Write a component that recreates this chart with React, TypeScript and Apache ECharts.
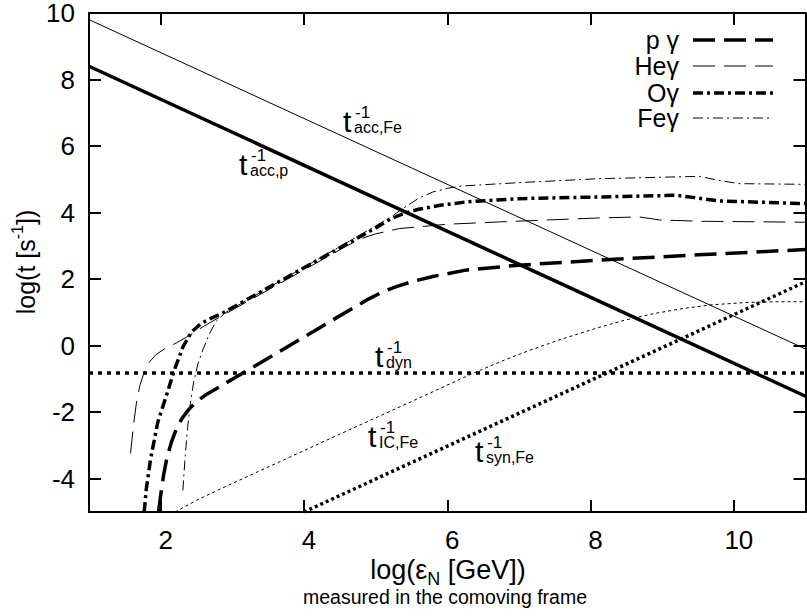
import React, { useEffect, useRef } from "react";
import * as echarts from "echarts";

const FONT = '"Liberation Sans", Arial, sans-serif';

// axis ticks
const xTicks = [2, 4, 6, 8, 10];
const yTicks = [-4, -2, 0, 2, 4, 6, 8, 10];

// legend / series names
const seriesNames = ["p γ", "Heγ", "Oγ", "Feγ"];

// photo-hadronic loss rates
const pGamma: number[][] = [
  [1.97, -5], [2.0, -4.5], [2.04, -3.9], [2.09, -3.35], [2.15, -2.9], [2.22, -2.5],
  [2.3, -2.18], [2.4, -1.9], [2.5, -1.68], [2.65, -1.45], [3.5, -0.38], [4.4, 0.77],
  [4.9, 1.4], [5.1, 1.62], [5.3, 1.78], [5.5, 1.92], [5.8, 2.08], [6.26, 2.27],
  [7.0, 2.42], [8.12, 2.57], [9.5, 2.73], [11, 2.89],
];
const heGamma: number[][] = [
  [1.58, -3.24], [1.62, -2.4], [1.66, -1.75], [1.71, -1.2], [1.77, -0.8], [1.84, -0.5],
  [1.93, -0.28], [2.05, -0.1], [2.2, 0.06], [2.38, 0.28], [2.6, 0.58], [2.84, 0.88],
  [4.6, 3.0], [4.8, 3.22], [5.0, 3.36], [5.33, 3.52], [6.0, 3.65], [6.73, 3.72],
  [8.12, 3.84], [8.68, 3.87], [8.96, 3.78], [9.52, 3.74], [11, 3.71],
];
const oGamma: number[][] = [
  [1.77, -5], [1.8, -4.3], [1.86, -3.4], [1.96, -2.3], [2.08, -1.5], [2.19, -0.74],
  [2.31, -0.04], [2.43, 0.41], [2.56, 0.66], [2.7, 0.82], [2.84, 0.95], [4.6, 3.06],
  [5.0, 3.54], [5.2, 3.8], [5.4, 3.98], [5.6, 4.1], [5.9, 4.22], [6.26, 4.32],
  [7.0, 4.42], [8.12, 4.47], [9.2, 4.52], [9.45, 4.45], [9.8, 4.35], [11, 4.27],
];
const feGamma: number[][] = [
  [2.31, -4.35], [2.34, -3.4], [2.37, -2.6], [2.41, -1.8], [2.46, -1.1], [2.52, -0.55],
  [2.59, -0.12], [2.68, 0.35], [2.77, 0.72], [2.9, 0.99], [4.6, 3.1], [5.0, 3.6],
  [5.2, 3.85], [5.4, 4.15], [5.6, 4.43], [5.8, 4.62], [6.0, 4.73], [6.2, 4.8],
  [7.0, 4.9], [8.12, 5.02], [9.52, 5.09], [9.65, 5.03], [9.79, 4.97], [10.07, 4.87],
  [11, 4.85],
];

// acceleration, dynamical, IC and synchrotron rates
const accFe: number[][] = [[1, 9.8], [11, -0.1]];
const accP: number[][] = [[1, 8.4], [11, -1.52]];
const tDyn: number[][] = [[1, -0.82], [11, -0.82]];
const icFe: number[][] = [
  [2.2, -5], [2.5, -4.65], [2.84, -4.3], [3.6, -3.55], [4.47, -2.69], [5.5, -1.68],
  [6.36, -0.83], [6.8, -0.43], [7.15, -0.14], [7.6, 0.2], [8.12, 0.55], [8.5, 0.78],
  [8.9, 0.97], [9.3, 1.12], [9.7, 1.23], [10.2, 1.3], [10.6, 1.32], [11, 1.32],
];
const synFe: number[][] = [[4.0, -5], [11, 1.92]];

// rate labels: main "t", superscript, subscript
const rateLabels = [
  { sub: "acc,Fe", x: 343, base: 132 },
  { sub: "acc,p", x: 239, base: 175 },
  { sub: "dyn", x: 375, base: 367 },
  { sub: "IC,Fe", x: 368, base: 447 },
  { sub: "syn,Fe", x: 475, base: 462 },
];

// legend line styles (same as series)
const styles: { width: number; dash: number[] | null }[] = [
  { width: 3.5, dash: [22, 9] },
  { width: 1, dash: [22, 9] },
  { width: 3.5, dash: [10, 4, 3, 4] },
  { width: 1, dash: [10, 4, 2, 4] },
];
const legendRows = [40, 66, 93, 118];

function measure(text: string, size: number): number {
  const ctx = document.createElement("canvas").getContext("2d");
  if (!ctx) return text.length * size * 0.5;
  ctx.font = `${size}px ${FONT}`;
  return ctx.measureText(text).width;
}

const mid = (base: number, fs: number) => base - 0.347 * fs;

export default function App() {
  const ref = useRef<HTMLDivElement>(null);
  useEffect(() => {
    if (!ref.current) return;
    const chart = echarts.init(ref.current, undefined, { renderer: "svg" });

    const line = (name: string, data: number[][], width: number, type: any) => ({
      type: "line",
      name,
      data,
      showSymbol: false,
      symbol: "none",
      smooth: false,
      silent: true,
      lineStyle: { color: "#000", width, type, cap: "butt", join: "round" },
      itemStyle: { color: "#000" },
      emphasis: { disabled: true },
    });

    const txt = (x: number, y: number, text: string, fs: number, align = "left") => ({
      type: "text",
      x,
      y,
      z: 100,
      style: { text, fontSize: fs, fontFamily: FONT, fill: "#000", align, verticalAlign: "middle" },
    });

    const graphics: any[] = [];
    rateLabels.forEach((l) => {
      graphics.push(txt(l.x, mid(l.base, 30), "t", 30));
      graphics.push(txt(l.x + 12, mid(l.base - 14, 17), "-1", 17));
      graphics.push(txt(l.x + 11, mid(l.base + 1, 16), l.sub, 16));
    });

    // legend
    seriesNames.forEach((n, i) => {
      graphics.push(txt(679, legendRows[i], n, 25, "right"));
      graphics.push({
        type: "line",
        z: 100,
        shape: { x1: 693, y1: legendRows[i], x2: 773, y2: legendRows[i] },
        style: { stroke: "#000", lineWidth: styles[i].width, lineDash: styles[i].dash, lineCap: "butt" },
      });
    });

    // x axis title
    const xa = "log(ε", xn = "N", xb = " [GeV])";
    const w1 = measure(xa, 27), w2 = measure(xn, 18), w3 = measure(xb, 27);
    const sx = 448 - (w1 + w2 + w3) / 2;
    const xBase = 579;
    graphics.push(txt(sx, mid(xBase, 27), xa, 27));
    graphics.push(txt(sx + w1, mid(xBase + 6, 18), xn, 18));
    graphics.push(txt(sx + w1 + w2, mid(xBase, 27), xb, 27));
    graphics.push(txt(445, mid(604, 19.5), "measured in the comoving frame", 19.5, "center"));

    // y axis title (rotated)
    const ya = "log(t [s", ys = "-1", yb = "])";
    const v1 = measure(ya, 25), v2 = measure(ys, 16), v3 = measure(yb, 25);
    const y0 = -(v1 + v2 + v3) / 2;
    graphics.push({
      type: "group",
      x: 26,
      y: 262,
      rotation: Math.PI / 2,
      children: [txt(y0, 0, ya, 25), txt(y0 + v1, -9, ys, 16), txt(y0 + v1 + v2, 0, yb, 25)],
    });

    const axisLine = { show: true, onZero: false, lineStyle: { color: "#000", width: 2 } };
    const tick = (vals: number[]) => ({
      show: true, inside: true, length: 12, customValues: vals, lineStyle: { color: "#000", width: 2 },
    });

    chart.setOption({
      animation: false,
      backgroundColor: "#fff",
      grid: { left: 89, right: 1.5, top: 13, bottom: 104, containLabel: false },
      xAxis: [
        {
          type: "value", min: 1, max: 11, position: "bottom", axisLine, splitLine: { show: false },
          axisTick: tick(xTicks),
          axisLabel: { show: true, customValues: xTicks, margin: 15, fontSize: 26, fontFamily: FONT, color: "#000", padding: [0, 0, 0, 10] },
        },
        {
          type: "value", min: 1, max: 11, position: "top", axisLine, splitLine: { show: false },
          axisTick: tick(xTicks), axisLabel: { show: false },
        },
      ],
      yAxis: [
        {
          type: "value", min: -5, max: 10, position: "left", axisLine, splitLine: { show: false },
          axisTick: tick(yTicks),
          axisLabel: { show: true, customValues: yTicks, margin: 14, fontSize: 26, lineHeight: 22, fontFamily: FONT, color: "#000" },
        },
        {
          type: "value", min: -5, max: 10, position: "right", axisLine, splitLine: { show: false },
          axisTick: tick(yTicks), axisLabel: { show: false },
        },
      ],
      series: [
        line(seriesNames[0], pGamma, 3.5, styles[0].dash),
        line(seriesNames[1], heGamma, 1, styles[1].dash),
        line(seriesNames[2], oGamma, 3.5, styles[2].dash),
        line(seriesNames[3], feGamma, 1, styles[3].dash),
        line("t_acc,Fe", accFe, 1, "solid"),
        line("t_acc,p", accP, 3.5, "solid"),
        line("t_dyn", tDyn, 3.5, [4, 5]),
        line("t_IC,Fe", icFe, 1, [3, 3]),
        line("t_syn,Fe", synFe, 3.5, [3, 3]),
      ],
      graphic: graphics,
    });
    return () => chart.dispose();
  }, []);
  return <div ref={ref} style={{ position: "fixed", left: 0, top: 0, width: 807, height: 616, background: "#fff" }} />;
}
